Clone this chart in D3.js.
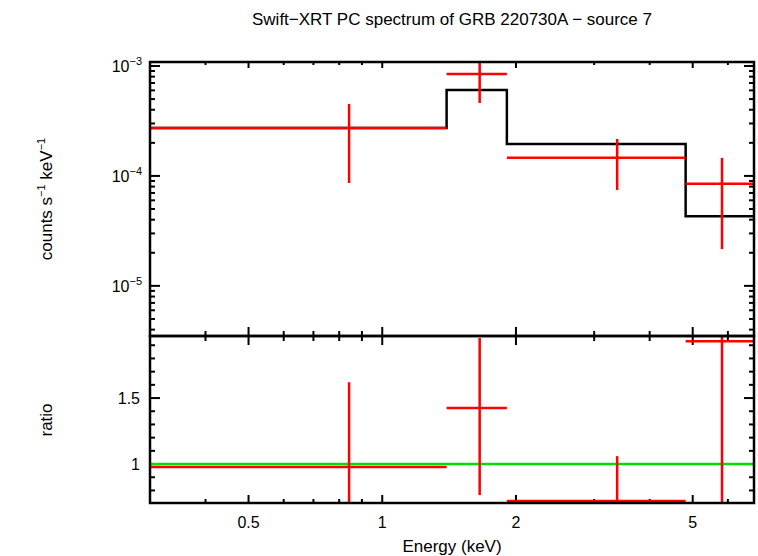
<!DOCTYPE html>
<html><head><meta charset="utf-8">
<script src="https://cdn.jsdelivr.net/npm/d3@7"></script>
<style>body{margin:0;background:#fff}text{font-family:"Liberation Sans",Arial,sans-serif}</style>
</head><body><div id="chart"></div>
<script>
// Data bins (keV)
const binLo = [0.3, 1.396, 1.908, 4.82];
const binHi = [1.396, 1.908, 4.82, 6.87];
const binMid = [0.842, 1.657, 3.38, 5.82];
const rate = [2.73e-4, 8.46e-4, 1.46e-4, 8.5e-5];
const rateLo = [8.63e-5, 4.61e-4, 7.44e-5, 2.16e-5];
const rateHi = [4.52e-4, 1.21e-3, 2.17e-4, 1.46e-4];
const model = [2.73e-4, 6.05e-4, 1.95e-4, 4.3e-5];
const ratio = [0.977, 1.424, 0.72, 1.93];
const ratioLo = [0.6, 0.765, 0.6, 0.6];
const ratioHi = [1.62, 1.955, 1.06, 2.5];
const xTicks = [0.5, 1, 2, 5];
const yTicks = [1e-5, 1e-4, 1e-3];
const rTicks = [1, 1.5];

const W = 758, H = 556;
const L = 150, R = 754, T1 = 62, B1 = 336, B2 = 503;
const svg = d3.select("#chart").append("svg").attr("width", W).attr("height", H);

const x = d3.scaleLog().domain([0.3, 6.87]).range([L, R]);
const y = d3.scaleLog().domain([3.5e-6, 1.087e-3]).range([B1, T1]);
const yr = d3.scaleLinear().domain([0.705, 1.97]).range([B2, B1]);

svg.append("defs").selectAll("clipPath").data([["c1", T1, B1], ["c2", B1, B2]]).enter()
  .append("clipPath").attr("id", d => d[0])
  .append("rect").attr("x", L).attr("y", d => d[1]).attr("width", R - L).attr("height", d => d[2] - d[1]);

const minorX = [];
[0.1, 1].forEach(dec => { for (let i = 1; i < 10; i++) { const v = dec * i; if (v >= 0.3 && v <= 6.87 && !xTicks.includes(+v.toFixed(3))) minorX.push(v); } });

const gt = svg.append("g").attr("stroke", "#000").attr("stroke-width", 2);
function vtick(v, y0, dir, len) { gt.append("line").attr("x1", x(v)).attr("x2", x(v)).attr("y1", y0).attr("y2", y0 + dir * len); }
// top edge, bottom edge (inward), middle boundary (both sides)
xTicks.forEach(v => { vtick(v, T1, 1, 6); vtick(v, B2, -1, 8); vtick(v, B1 - 9, 1, 18); });
minorX.forEach(v => { vtick(v, T1, 1, 3); vtick(v, B2, -1, 4); vtick(v, B1 - 5, 1, 10); });

function htick(yy, len) { [[L, L + len], [R, R - len]].forEach(p => gt.append("line").attr("x1", p[0]).attr("x2", p[1]).attr("y1", yy).attr("y2", yy)); }
yTicks.forEach(v => htick(y(v), 10));
[1e-6, 1e-5, 1e-4].forEach(dec => { for (let i = 2; i < 10; i++) { const v = dec * i; if (v > 3.5e-6 && v < 1.087e-3) htick(y(v), 5); } });
yTicks.forEach(v => {
  const t = svg.append("text").attr("x", L - 8).attr("y", y(v) + 6).attr("text-anchor", "end").attr("font-size", 16).text("10");
  t.append("tspan").attr("dy", -7).attr("font-size", 11).text("\u2212" + Math.round(-Math.log10(v)));
});
[0.8, 0.9, 1, 1.1, 1.2, 1.3, 1.4, 1.5, 1.6, 1.7, 1.8, 1.9].forEach(v => htick(yr(v), rTicks.includes(v) ? 10 : 5));
rTicks.forEach(v => svg.append("text").attr("x", L - 10).attr("y", yr(v) + 6).attr("text-anchor", "end").attr("font-size", 16).text(v));
xTicks.forEach(v => svg.append("text").attr("x", x(v)).attr("y", 528).attr("text-anchor", "middle").attr("font-size", 16).text(v));

// top panel data
const p1 = svg.append("g").attr("clip-path", "url(#c1)");
const step = [];
binLo.forEach((lo, i) => { step.push([lo, model[i]], [binHi[i], model[i]]); });
p1.append("path").datum(step).attr("fill", "none").attr("stroke", "#000").attr("stroke-width", 2.5)
  .attr("d", d3.line().x(d => x(d[0])).y(d => y(d[1])));
binLo.forEach((lo, i) => {
  p1.append("line").attr("x1", x(lo)).attr("x2", x(binHi[i])).attr("y1", y(rate[i])).attr("y2", y(rate[i])).attr("stroke", "red").attr("stroke-width", 2.5);
  p1.append("line").attr("x1", x(binMid[i])).attr("x2", x(binMid[i])).attr("y1", y(rateLo[i])).attr("y2", y(rateHi[i])).attr("stroke", "red").attr("stroke-width", 2.5);
});

// ratio panel
const p2 = svg.append("g").attr("clip-path", "url(#c2)");
p2.append("line").attr("x1", L).attr("x2", R).attr("y1", yr(1)).attr("y2", yr(1)).attr("stroke", "#00e000").attr("stroke-width", 2.5);
binLo.forEach((lo, i) => {
  p2.append("line").attr("x1", x(lo)).attr("x2", x(binHi[i])).attr("y1", yr(ratio[i])).attr("y2", yr(ratio[i])).attr("stroke", "red").attr("stroke-width", 2.5);
  p2.append("line").attr("x1", x(binMid[i])).attr("x2", x(binMid[i])).attr("y1", yr(ratioLo[i])).attr("y2", yr(ratioHi[i])).attr("stroke", "red").attr("stroke-width", 2.5);
});

// frames
svg.append("rect").attr("x", L).attr("y", T1).attr("width", R - L).attr("height", B1 - T1).attr("fill", "none").attr("stroke", "#000").attr("stroke-width", 2.5);
svg.append("rect").attr("x", L).attr("y", B1).attr("width", R - L).attr("height", B2 - B1).attr("fill", "none").attr("stroke", "#000").attr("stroke-width", 2.5);

// labels
svg.append("text").attr("x", 452).attr("y", 25).attr("text-anchor", "middle").attr("font-size", 17).text("Swift\u2212XRT PC spectrum of GRB 220730A \u2212 source 7");
svg.append("text").attr("x", 452).attr("y", 552).attr("text-anchor", "middle").attr("font-size", 17).text("Energy (keV)");
svg.append("text").attr("transform", "translate(52,420) rotate(-90)").attr("text-anchor", "middle").attr("font-size", 17).text("ratio");
const yl = svg.append("text").attr("transform", "translate(52,199) rotate(-90)").attr("text-anchor", "middle").attr("font-size", 17);
yl.append("tspan").text("counts s");
yl.append("tspan").attr("dy", -7).attr("font-size", 11).text("\u22121");
yl.append("tspan").attr("dy", 7).text(" keV");
yl.append("tspan").attr("dy", -7).attr("font-size", 11).text("\u22121");
</script></body></html>
